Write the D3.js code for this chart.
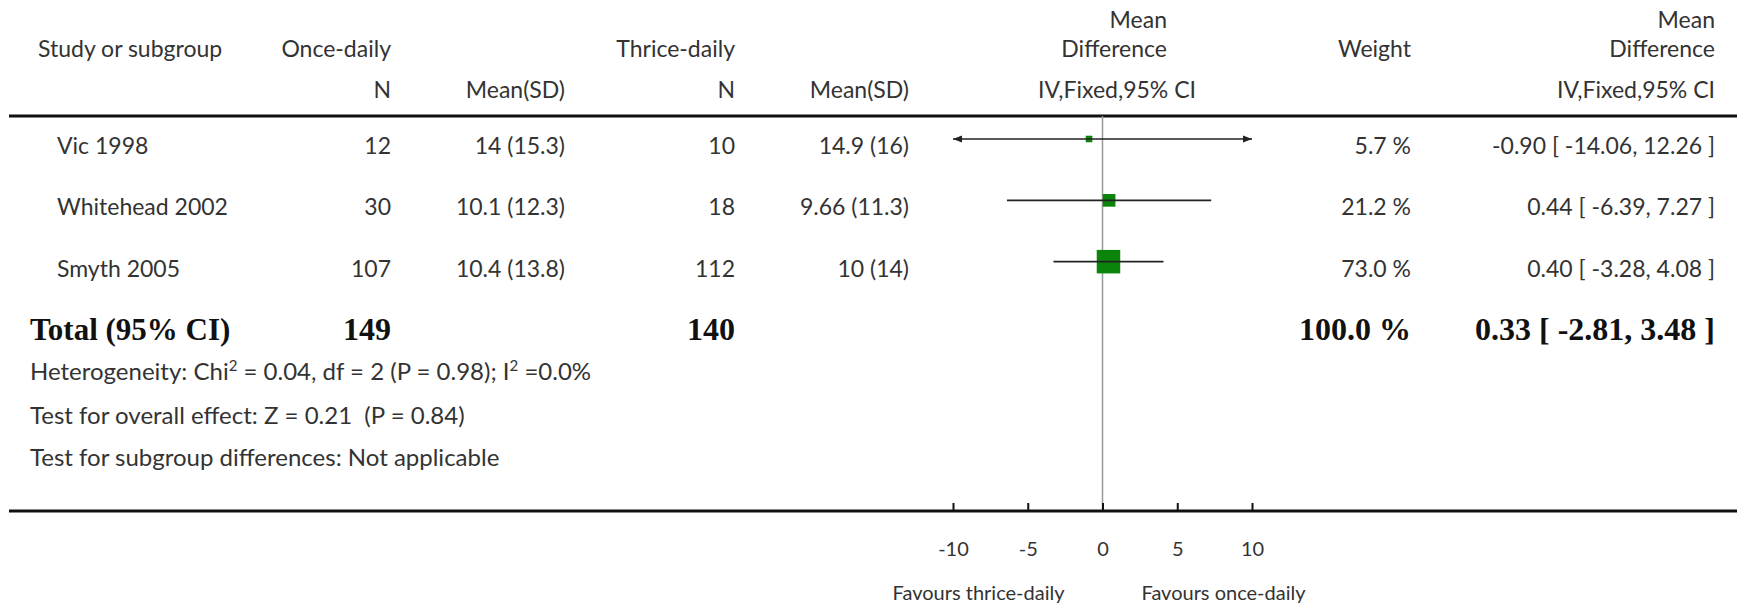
<!DOCTYPE html>
<html>
<head>
<meta charset="utf-8">
<script src="https://cdn.jsdelivr.net/npm/d3@7"></script>
<style>
  body { margin: 0; background: #fff; }
  text { font-family: Lato, "Open Sans", sans-serif; fill: #333; white-space: pre; }
  .bold { font-family: "Liberation Serif", "Times New Roman", serif; font-weight: bold; fill: #111; }
</style>
</head>
<body>
<div id="forest"></div>
<script>
// data
var studies = ["Vic 1998", "Whitehead 2002", "Smyth 2005"];
var onceN = [12, 30, 107];
var onceMeanSD = ["14 (15.3)", "10.1 (12.3)", "10.4 (13.8)"];
var thriceN = [10, 18, 112];
var thriceMeanSD = ["14.9 (16)", "9.66 (11.3)", "10 (14)"];
var meanDiff = [-0.90, 0.44, 0.40];
var ciLow = [-14.06, -6.39, -3.28];
var ciHigh = [12.26, 7.27, 4.08];
var weights = [5.7, 21.2, 73.0];

var totalLabel = "Total (95% CI)";
var totalN = [149, 140];
var totalMD = 0.33;
var totalCI = [-2.81, 3.48];
var totalWeight = 100.0;

var axisTicks = [-10, -5, 0, 5, 10];
var favours = ["Favours thrice-daily", "Favours once-daily"];

// set the dimensions of the page
var width = 1737,
    height = 603;

var svg = d3.select("#forest")
  .append("svg")
    .attr("width", width)
    .attr("height", height);

// column positions (right edges unless said otherwise)
var col = {study: 38, studyRow: 57, onceN: 391, onceMean: 565, thriceN: 735, thriceMean: 909,
           plotHead: 1167, plotHead2: 1196, weight: 1411, md: 1715};

// x scale for the plot, y scale for the rows (index 3 = total)
var x = d3.scaleLinear().domain([-10, 10]).range([953, 1252]);
var y = d3.scaleLinear().domain([0, 3]).range([139, 323]);

var lineTop = 116, lineBottom = 511;

// header
function txt(x0, y0, s, anchor, size, cls) {
  return svg.append("text")
    .attr("x", x0).attr("y", y0)
    .attr("text-anchor", anchor || "start")
    .attr("class", cls || null)
    .style("font-size", (size || 23) + "px")
    .text(s);
}
txt(col.study, 57, "Study or subgroup");
txt(col.onceN, 57, "Once-daily", "end");
txt(col.thriceN, 57, "Thrice-daily", "end");
txt(col.plotHead, 28, "Mean", "end");
txt(col.plotHead, 57, "Difference", "end");
txt(col.weight, 57, "Weight", "end");
txt(col.md, 28, "Mean", "end");
txt(col.md, 57, "Difference", "end");
txt(col.onceN, 98, "N", "end");
txt(col.onceMean, 98, "Mean(SD)", "end");
txt(col.thriceN, 98, "N", "end");
txt(col.thriceMean, 98, "Mean(SD)", "end");
txt(col.plotHead2, 98, "IV,Fixed,95% CI", "end");
txt(col.md, 98, "IV,Fixed,95% CI", "end");

// horizontal rules
svg.append("line")
  .attr("x1", 9).attr("x2", width)
  .attr("y1", lineTop).attr("y2", lineTop)
  .attr("stroke", "#111").attr("stroke-width", 3);

// line of no effect
svg.append("line")
  .attr("x1", x(0)).attr("x2", x(0))
  .attr("y1", lineTop).attr("y2", lineBottom)
  .attr("stroke", "#999").attr("stroke-width", 1.5);

// study rows text
studies.forEach(function(s, i) {
  var ty = y(i) + 15;
  txt(col.studyRow, ty, s);
  txt(col.onceN, ty, onceN[i], "end");
  txt(col.onceMean, ty, onceMeanSD[i], "end");
  txt(col.thriceN, ty, thriceN[i], "end");
  txt(col.thriceMean, ty, thriceMeanSD[i], "end");
  txt(col.weight, ty, weights[i].toFixed(1) + " %", "end");
  txt(col.md, ty, meanDiff[i].toFixed(2) + " [ " + ciLow[i].toFixed(2) + ", " + ciHigh[i].toFixed(2) + " ]", "end");
});

// squares sized by weight
var side = d3.scaleSqrt().domain([0, 100]).range([0, 27.5]);
svg.selectAll(".box")
  .data(meanDiff)
  .enter().append("rect")
    .attr("class", "box")
    .attr("x", function(d, i) { return x(d) - side(weights[i]) / 2; })
    .attr("y", function(d, i) { return y(i) - side(weights[i]) / 2; })
    .attr("width", function(d, i) { return side(weights[i]); })
    .attr("height", function(d, i) { return side(weights[i]); })
    .attr("fill", "#0a840a");

// CI lines, clipped to the axis with arrows
var dom = x.domain();
svg.selectAll(".ci")
  .data(meanDiff)
  .enter().append("line")
    .attr("class", "ci")
    .attr("x1", function(d, i) { return x(Math.max(ciLow[i], dom[0])); })
    .attr("x2", function(d, i) { return x(Math.min(ciHigh[i], dom[1])); })
    .attr("y1", function(d, i) { return y(i); })
    .attr("y2", function(d, i) { return y(i); })
    .attr("stroke", "#222").attr("stroke-width", 1.6);

meanDiff.forEach(function(d, i) {
  if (ciLow[i] < dom[0]) {
    var ax = x(dom[0]), ay = y(i);
    svg.append("path").attr("d", "M" + ax + "," + ay + "l9,-3.5l0,7z").attr("fill", "#222");
  }
  if (ciHigh[i] > dom[1]) {
    var bx = x(dom[1]), by = y(i);
    svg.append("path").attr("d", "M" + bx + "," + by + "l-9,-3.5l0,7z").attr("fill", "#222");
  }
});

// total row
var ty3 = y(3) + 17;
txt(30, ty3, totalLabel, "start", 31, "bold");
txt(col.onceN, ty3, totalN[0], "end", 32, "bold");
txt(col.thriceN, ty3, totalN[1], "end", 32, "bold");
txt(col.weight, ty3, totalWeight.toFixed(1) + " %", "end", 32, "bold");
txt(col.md, ty3, totalMD.toFixed(2) + " [ " + totalCI[0].toFixed(2) + ", " + totalCI[1].toFixed(2) + " ]", "end", 32, "bold");

svg.append("path")
  .datum([[totalCI[0], 0], [totalMD, -7], [totalCI[1], 0], [totalMD, 7]])
  .attr("d", d3.line()
    .x(function(d) { return x(d[0]); })
    .y(function(d) { return y(3) + d[1]; }) + "Z")
  .attr("fill", "#000");

// footnotes
var het = svg.append("text").attr("x", 30).attr("y", 380).style("font-size", "24px");
het.append("tspan").text("Heterogeneity: Chi");
het.append("tspan").attr("dy", -9).style("font-size", "15px").text("2");
het.append("tspan").attr("dy", 9).text(" = 0.04, df = 2 (P = 0.98); I");
het.append("tspan").attr("dy", -9).style("font-size", "15px").text("2");
het.append("tspan").attr("dy", 9).text(" =0.0%");
txt(30, 424, "Test for overall effect: Z = 0.21  (P = 0.84)", "start", 24);
txt(30, 466, "Test for subgroup differences: Not applicable", "start", 24);

// bottom axis
svg.append("line")
  .attr("x1", 9).attr("x2", width)
  .attr("y1", lineBottom).attr("y2", lineBottom)
  .attr("stroke", "#111").attr("stroke-width", 3);

var axis = svg.append("g")
  .attr("transform", "translate(0," + lineBottom + ")")
  .call(d3.axisBottom(x).tickValues(axisTicks).tickSizeInner(-8).tickSizeOuter(0).tickPadding(31)
    .tickFormat(function(d) { return d; }));
axis.select(".domain").remove();
axis.selectAll(".tick line").attr("stroke", "#111").attr("stroke-width", 2);
axis.selectAll(".tick text")
  .style("font-size", "20px")
  .style("font-family", "Lato, sans-serif")
  .attr("fill", "#333");

txt(x(0) - 38, 600, favours[0], "end", 20);
txt(x(0) + 39, 600, favours[1], "start", 20);
</script>
</body>
</html>
